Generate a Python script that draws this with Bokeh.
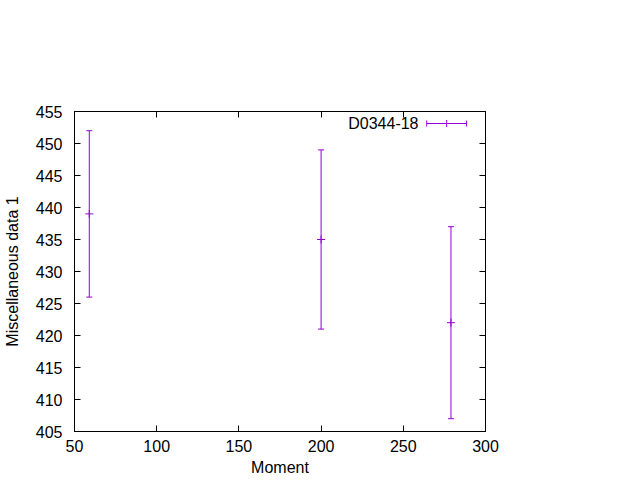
from bokeh.plotting import figure
from bokeh.models import (ColumnDataSource, Whisker, TeeHead, Range1d, LinearAxis,
                          SingleIntervalTicker, Label, Arrow, CustomJSTickFormatter)
from bokeh.embed import file_html
from bokeh.resources import INLINE

# ---- data ----
moment = [59, 200, 279]
value = [439, 435, 422]
lower = [426, 421, 407]
upper = [452, 449, 437]
series_name = "D0344-18"
x_label = "Moment"
y_label = "Miscellaneous data 1"

COLOR = "#9400D3"
FONT = "Liberation Sans"
FS = "16px"

X0, X1 = 50, 300
Y0, Y1 = 405, 455

p = figure(width=632, height=478, output_backend="svg", toolbar_location=None,
           x_range=Range1d(X0, X1), y_range=Range1d(Y0, Y1),
           min_border_left=74, min_border_right=147, min_border_top=111, min_border_bottom=47)
p.background_fill_color = "white"
p.border_fill_color = "white"
p.outline_line_color = "black"
p.outline_line_width = 1
p.xgrid.grid_line_color = None
p.ygrid.grid_line_color = None

p.xaxis.ticker = SingleIntervalTicker(interval=50)
p.yaxis.ticker = SingleIntervalTicker(interval=5)

for ax in p.xaxis + p.yaxis:
    ax.major_tick_in = 6
    ax.major_tick_out = 0
    ax.minor_tick_line_color = None
    ax.axis_line_color = "black"
    ax.major_label_text_font = FONT
    ax.major_label_text_font_size = FS
    ax.major_label_text_color = "black"
    ax.axis_label_text_font = FONT
    ax.axis_label_text_font_size = FS
    ax.axis_label_text_font_style = "normal"
    ax.axis_label_text_color = "black"

p.xaxis.axis_label = x_label
p.yaxis.axis_label = y_label
p.xaxis.major_label_standoff = 4
p.xaxis.axis_label_standoff = 4
p.yaxis.major_label_standoff = 8
p.yaxis.axis_label_standoff = 12

# mirror ticks (no labels)
blank = CustomJSTickFormatter(code="return ''")
top = LinearAxis(ticker=SingleIntervalTicker(interval=50), major_tick_in=6, major_tick_out=0,
                 minor_tick_line_color=None, formatter=blank, major_label_standoff=0)
right = LinearAxis(ticker=SingleIntervalTicker(interval=5), major_tick_in=6, major_tick_out=0,
                   minor_tick_line_color=None, formatter=blank, major_label_standoff=0)
p.add_layout(top, "above")
p.add_layout(right, "right")

src = ColumnDataSource(dict(x=moment, y=value, lo=lower, hi=upper))
w = Whisker(base="x", upper="hi", lower="lo", source=src, dimension="height",
            line_color=COLOR, line_width=1,
            upper_head=TeeHead(size=6, line_color=COLOR, line_width=1),
            lower_head=TeeHead(size=6, line_color=COLOR, line_width=1))
p.add_layout(w)
p.scatter("x", "y", source=src, marker="cross", size=8, line_color=COLOR, line_width=1)

# legend (gnuplot style: text then sample)
fx = lambda f: X0 + f * (X1 - X0)
fy = lambda f: Y0 + f * (Y1 - Y0)
ly = fy(0.9625)
p.add_layout(Label(x=fx(0.837), y=ly, text=series_name, text_align="right",
                   text_baseline="middle", text_font=FONT, text_font_size=FS,
                   text_color="black"))
p.add_layout(Arrow(x_start=fx(0.857), y_start=ly, x_end=fx(0.954), y_end=ly,
                   line_color=COLOR, line_width=1,
                   start=TeeHead(size=6, line_color=COLOR, line_width=1),
                   end=TeeHead(size=6, line_color=COLOR, line_width=1)))
p.scatter([fx(0.9055)], [ly], marker="cross", size=7, line_color=COLOR, line_width=1)

open("out.html", "w").write(file_html(p, INLINE))
